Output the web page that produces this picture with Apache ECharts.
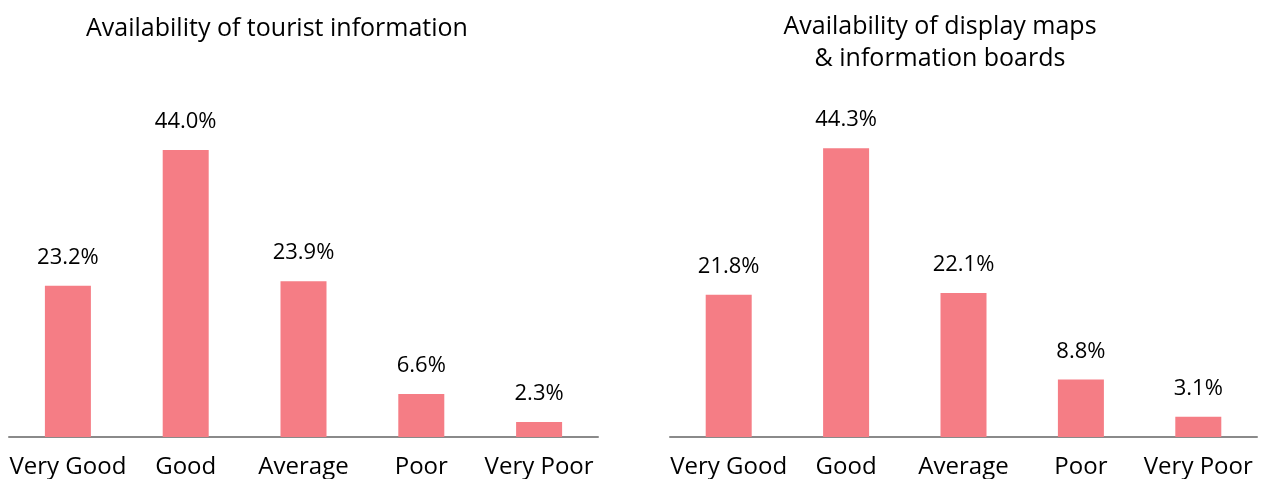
<!DOCTYPE html>
<html>
<head>
<meta charset="utf-8">
<script src="https://cdn.jsdelivr.net/npm/echarts@6/dist/echarts.min.js"></script>
<style>
  html, body { margin: 0; padding: 0; background: #fff; }
  #main { width: 1266px; height: 479px; }
</style>
</head>
<body>
<div id="main"></div>
<script>
var categories = ['Very Good', 'Good', 'Average', 'Poor', 'Very Poor'];
var touristInfo = [23.2, 44.0, 23.9, 6.6, 2.3];
var displayMaps = [21.8, 44.3, 22.1, 8.8, 3.1];

var barColor = '#F57D85';
var fontName = 'Open Sans';

function makeXAxis(idx) {
	return {
		type: 'category',
		gridIndex: idx,
		data: categories,
		axisTick: { show: false },
		axisLine: { lineStyle: { color: '#8a8a8a', width: 2 } },
		axisLabel: { color: '#000', fontSize: 24, fontFamily: fontName, margin: 18, interval: 0 }
	};
}

function makeYAxis(idx) {
	return {
		type: 'value',
		gridIndex: idx,
		min: 0,
		max: 50,
		show: false,
		splitLine: { show: false }
	};
}

function makeSeries(idx, data) {
	return {
		type: 'bar',
		xAxisIndex: idx,
		yAxisIndex: idx,
		data: data,
		barWidth: 46,
		itemStyle: { color: barColor },
		label: {
			show: true,
			position: 'top',
			distance: 17,
			color: '#000',
			fontSize: 22,
			fontFamily: fontName,
			formatter: function (p) { return p.value.toFixed(1) + '%'; }
		}
	};
}

var myChart = echarts.init(document.getElementById('main'));
var option = {
	backgroundColor: '#fff',
	animation: false,
	title: [
		{
			text: 'Availability of tourist information',
			left: 272, top: 11, textAlign: 'center',
			textStyle: { fontSize: 25, fontWeight: 'normal', color: '#000', fontFamily: fontName }
		},
		{
			text: 'Availability of display maps\n& information boards',
			left: 935, top: 6, textAlign: 'center',
			textStyle: { fontSize: 25, fontWeight: 'normal', color: '#000', fontFamily: fontName, lineHeight: 32 }
		}
	],
	grid: [
		{ left: 9, width: 589, top: 111, bottom: 42 },
		{ left: 670, width: 587, top: 111, bottom: 42 }
	],
	xAxis: [makeXAxis(0), makeXAxis(1)],
	yAxis: [makeYAxis(0), makeYAxis(1)],
	series: [makeSeries(0, touristInfo), makeSeries(1, displayMaps)]
};
myChart.setOption(option);
</script>
</body>
</html>
